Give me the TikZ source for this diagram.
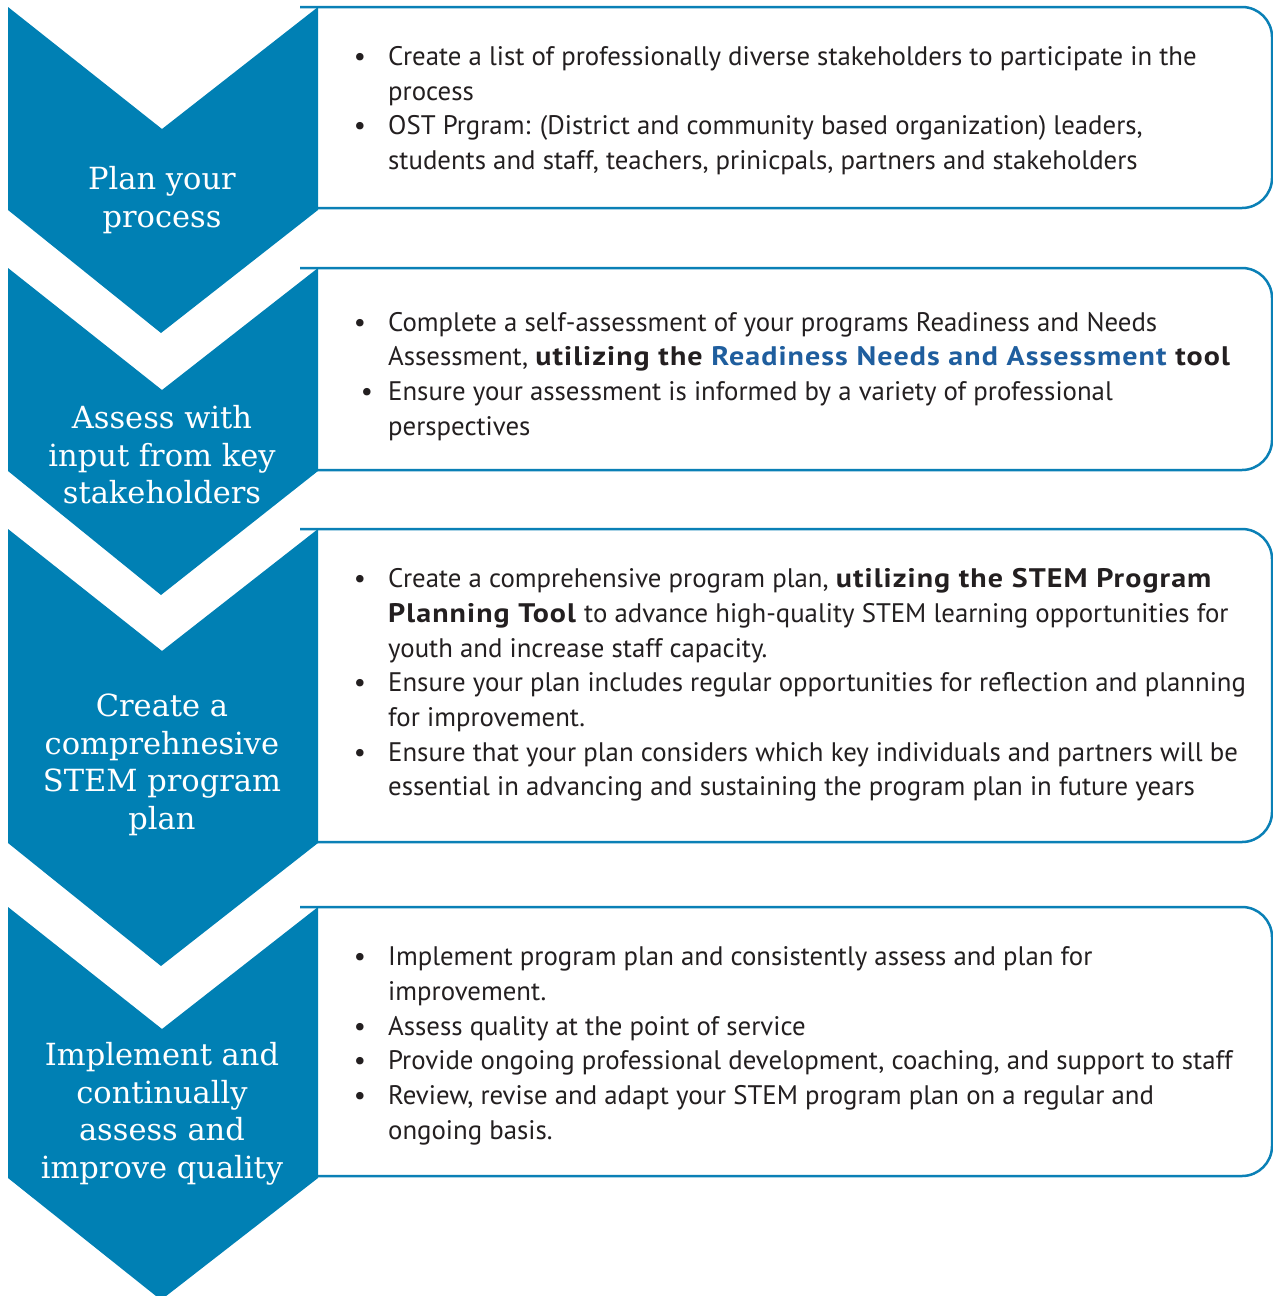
\documentclass[tikz,border=0pt]{standalone}
\usepackage{fontspec}
\setmainfont{PT Sans}[BoldFeatures={FakeStretch=1.12,LetterSpace=4}]
\newfontfamily\slab{DejaVu Serif}
\definecolor{chev}{HTML}{0080B4}
\definecolor{boxline}{HTML}{0A80B6}
\definecolor{linkblue}{HTML}{1F5E9E}
\definecolor{bodytext}{HTML}{231F20}
\tikzset{
  chevron/.style={fill=chev, draw=none},
  panel/.style={draw=boxline, line width=2.5pt, fill=white, rounded corners=30pt},
  bodyline/.style={anchor=mid west, inner sep=0pt, yshift=-7pt, font=\fontsize{26.8}{35}\selectfont, text=bodytext},
  bul/.style={anchor=mid, inner sep=0pt, yshift=-7pt, font=\fontsize{26.8}{35}\selectfont, text=bodytext},
  steplabel/.style={text=white, font=\slab\fontsize{30.5}{37.5}\selectfont, align=center, inner sep=0pt}
}
\begin{document}
\begin{tikzpicture}[x=1pt,y=-1pt]
\useasboundingbox (0,0) rectangle (1273,1296);

% panels
\draw[panel] (300,7) -- (1272,7) -- (1272,208) -- (300,208);
\draw[panel] (300,268) -- (1272,268) -- (1272,470) -- (300,470);
\draw[panel] (300,529) -- (1272,529) -- (1272,842) -- (300,842);
\draw[panel] (300,907) -- (1272,907) -- (1272,1176) -- (300,1176);

% chevrons
\fill[chevron] (8,7) -- (162,129) -- (318,7) -- (318,210) -- (161,333) -- (8,210) -- cycle;
\fill[chevron] (8,268) -- (162,390) -- (318,268) -- (318,471) -- (161,595) -- (8,471) -- cycle;
\fill[chevron] (8,529) -- (162,651) -- (318,529) -- (318,843) -- (161,966) -- (8,843) -- cycle;
\fill[chevron] (8,907) -- (162,1029) -- (318,907) -- (318,1178) -- (161,1300) -- (8,1178) -- cycle;

% chevron labels
\node[steplabel] (s1) at (162,200) {Plan your\\process};
\node[steplabel] (s2) at (162,455) {Assess with\\input from key\\stakeholders};
\node[steplabel] (s3) at (162,765) {Create a\\comprehnesive\\STEM program\\plan};
\node[steplabel] (s4) at (162,1114) {Implement and\\continually\\assess and\\improve quality};

% box 1
\node[bul] (p1b1) at (360,56) {•};
\node[bodyline] (p1l1) at (388,56) {Create a list of professionally diverse stakeholders to participate in the};
\node[bodyline] (p1l2) at (388,91) {process};
\node[bul] (p1b2) at (360,125) {•};
\node[bodyline] (p1l3) at (388,125) {OST Prgram: (District and community based organization) leaders,};
\node[bodyline] (p1l4) at (388,160) {students and staff, teachers, prinicpals, partners and stakeholders};

% box 2
\node[bul] (p2b1) at (360,322) {•};
\node[bodyline] (p2l1) at (388,322) {Complete a self-assessment of your programs Readiness and Needs};
\node[bodyline] (p2l2) at (388,356) {Assessment, \textbf{utilizing the \textcolor{linkblue}{Readiness Needs and Assessment} tool}};
\node[bul] (p2b2) at (367,391) {•};
\node[bodyline] (p2l3) at (388,391) {Ensure your assessment is informed by a variety of professional};
\node[bodyline] (p2l4) at (388,426) {perspectives};

% box 3
\node[bul] (p3b1) at (360,578) {•};
\node[bodyline] (p3l1) at (388,578) {Create a comprehensive program plan, \textbf{utilizing the STEM Program}};
\node[bodyline] (p3l2) at (388,613) {\textbf{Planning Tool} to advance high-quality STEM learning opportunities for};
\node[bodyline] (p3l3) at (388,648) {youth and increase staff capacity.};
\node[bul] (p3b2) at (360,682) {•};
\node[bodyline] (p3l4) at (388,682) {Ensure your plan includes regular opportunities for reflection and planning};
\node[bodyline] (p3l5) at (388,717) {for improvement.};
\node[bul] (p3b3) at (360,752) {•};
\node[bodyline] (p3l6) at (388,752) {Ensure that your plan considers which key individuals and partners will be};
\node[bodyline] (p3l7) at (388,786) {essential in advancing and sustaining the program plan in future years};

% box 4
\node[bul] (p4b1) at (360,956) {•};
\node[bodyline] (p4l1) at (388,956) {Implement program plan and consistently assess and plan for};
\node[bodyline] (p4l2) at (388,991) {improvement.};
\node[bul] (p4b2) at (360,1026) {•};
\node[bodyline] (p4l3) at (388,1026) {Assess quality at the point of service};
\node[bul] (p4b3) at (360,1060) {•};
\node[bodyline] (p4l4) at (388,1060) {Provide ongoing professional development, coaching, and support to staff};
\node[bul] (p4b4) at (360,1095) {•};
\node[bodyline] (p4l5) at (388,1095) {Review, revise and adapt your STEM program plan on a regular and};
\node[bodyline] (p4l6) at (388,1130) {ongoing basis.};
\end{tikzpicture}
\end{document}
